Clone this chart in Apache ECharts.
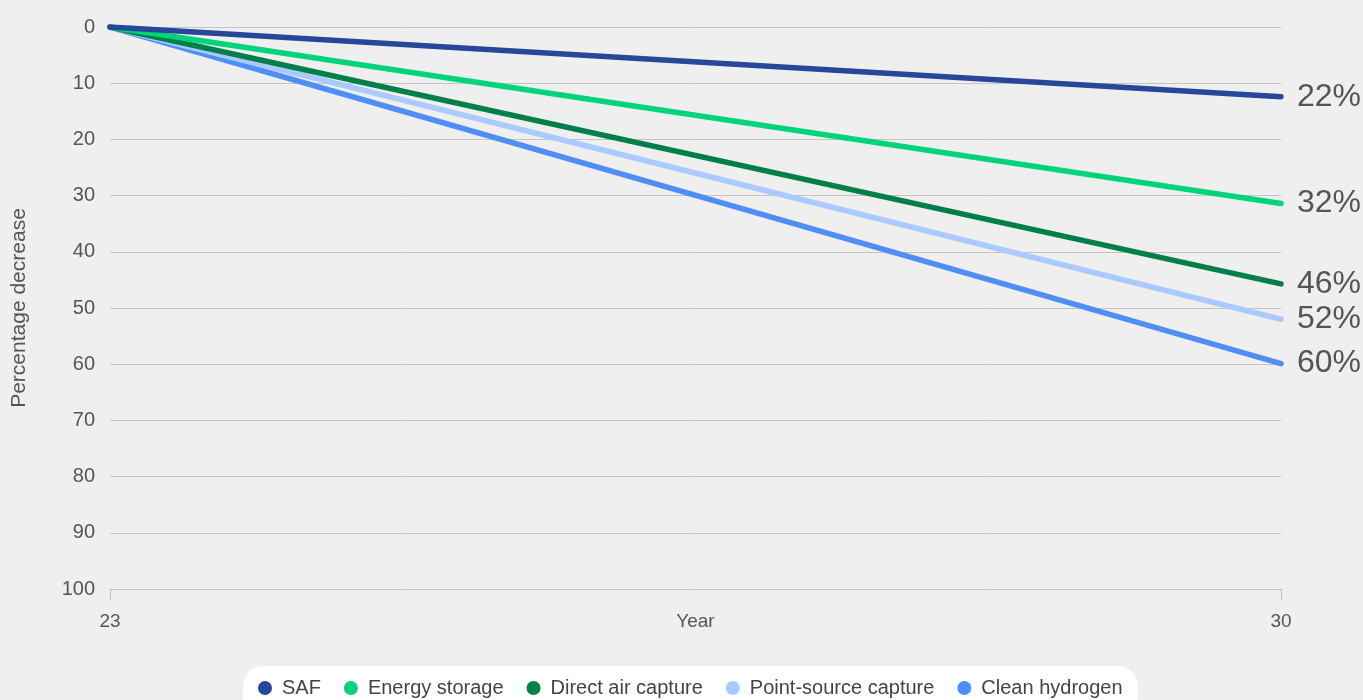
<!DOCTYPE html>
<html>
<head>
<meta charset="utf-8">
<script src="https://cdn.jsdelivr.net/npm/echarts@6/dist/echarts.min.js"></script>
<style>
html,body{margin:0;padding:0;background:#efefef;}
#chart{width:1363px;height:700px;}
</style>
</head>
<body>
<div id="chart"></div>
<script>
const years = [23, 30];
const seriesNames = ['SAF', 'Energy storage', 'Direct air capture', 'Point-source capture', 'Clean hydrogen'];
const safValues = [0, 12.4];
const energyStorageValues = [0, 31.4];
const directAirValues = [0, 45.7];
const pointSourceValues = [0, 52];
const cleanHydrogenValues = [0, 59.9];
const endLabels = ['22%', '32%', '46%', '52%', '60%'];
const colors = ['#27479b', '#00d47a', '#007f4a', '#a9c9ff', '#4f8ef7'];

const allValues = [safValues, energyStorageValues, directAirValues, pointSourceValues, cleanHydrogenValues];
const font = '"Liberation Sans", Arial, sans-serif';

const chart = echarts.init(document.getElementById('chart'));
chart.setOption({
  backgroundColor: '#efefef',
  animation: false,
  textStyle: { fontFamily: font },
  grid: { left: 110, right: 82, top: 27, bottom: 111 },
  xAxis: {
    type: 'value', min: years[0], max: years[years.length - 1],
    position: 'bottom',
    name: 'Year', nameLocation: 'middle', nameGap: 23, nameMoveOverlap: false,
    nameTextStyle: { fontSize: 19, color: '#555', fontFamily: font, verticalAlign: 'top' },
    axisLine: { show: false, onZero: false },
    axisTick: { show: true, customValues: years, length: 11, lineStyle: { color: '#bbb' } },
    axisLabel: { customValues: years, fontSize: 19, color: '#555', margin: 23, fontFamily: font },
    splitLine: { show: false }
  },
  yAxis: {
    type: 'value', min: 0, max: 100, interval: 10, inverse: true,
    name: 'Percentage decrease', nameLocation: 'middle', nameGap: 80, nameRotate: 90,
    nameMoveOverlap: false,
    nameTextStyle: { fontSize: 21, color: '#555', fontFamily: font },
    axisLine: { show: false }, axisTick: { show: false },
    axisLabel: { fontSize: 20, color: '#555', margin: 15, fontFamily: font },
    splitLine: { show: true, lineStyle: { color: '#c4c4c4', width: 1 } }
  },
  legend: {
    top: 666, left: 243,
    data: seriesNames,
    icon: 'circle', itemWidth: 14, itemHeight: 14, itemGap: 23,
    backgroundColor: '#ffffff', borderRadius: 20,
    padding: [12, 15, 20, 15],
    textStyle: { fontSize: 20, color: '#444', fontFamily: font, padding: [0, 0, 0, 5] }
  },
  series: seriesNames.map((name, i) => ({
    name: name, type: 'line',
    data: years.map((y, j) => [y, allValues[i][j]]),
    symbol: 'none', smooth: false,
    lineStyle: { color: colors[i], width: 5.5, cap: 'round' },
    itemStyle: { color: colors[i] },
    endLabel: {
      show: true, distance: 16,
      formatter: () => endLabels[i],
      fontSize: 32, color: '#555', fontFamily: font
    },
    z: 10 - i
  }))
});
</script>
</body>
</html>
